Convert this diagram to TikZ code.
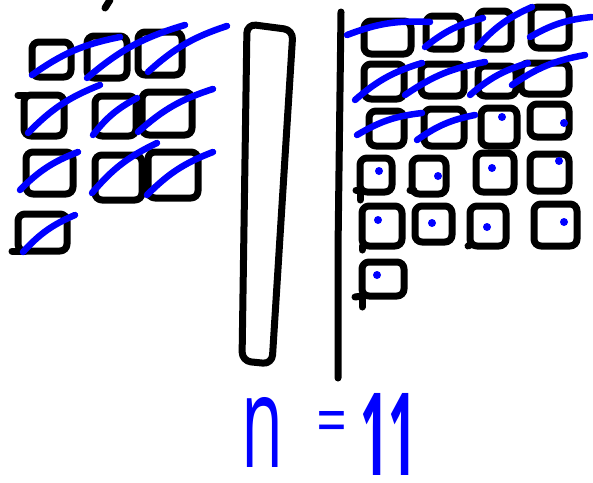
\documentclass[tikz,border=0pt]{standalone}
\usepackage{fontspec}
\setmainfont{Liberation Sans}
\newfontfamily\handfont{Open Sans}
\usepackage{graphicx}
\tikzset{
  ink/.style={line width=7pt, black, line cap=round, line join=round, rounded corners=7pt},
  pen/.style={line width=6.5pt, blue, line cap=round},
  dot/.style={blue, fill=blue},
  hand/.style={blue, inner sep=0pt, font=\handfont}
}
\newcommand{\sq}[4]{\draw[ink] (#1,#2) -- (#3,#2) -- (#3,#4) -- (#1,#4) -- cycle;}
\newcommand{\tick}[4]{\draw[pen] (#1,#2) to[bend left=12] (#3,#4);}
\newcommand{\bdot}[2]{\fill[dot] (#1,#2) circle (4pt);}
\begin{document}
\begin{tikzpicture}[x=1pt,y=-1pt]
\useasboundingbox (0,0) rectangle (593,482);
\fill[white] (0,0) rectangle (593,482);
% top tick
\draw[ink] (110,0) -- (105,8);
% left group
\sq{32}{42}{71}{77}
\sq{87}{36}{127}{78}
\sq{138}{32}{182}{75}
\sq{24}{95}{64}{136}
\sq{95}{96}{136}{136}
\sq{142}{92}{192}{135}
\sq{26}{152}{73}{194}
\sq{95}{155}{142}{200}
\sq{148}{152}{198}{198}
\sq{18}{214}{67}{251}
\draw[ink] (12,251) -- (25,251);
\draw[ink] (18,95) -- (26,95);
\tick{32}{75}{120}{37}
\tick{87}{78}{185}{25}
\tick{148}{72}{227}{26}
\tick{28}{133}{100}{85}
\tick{93}{135}{137}{98}
\tick{138}{132}{213}{89}
\tick{20}{190}{78}{152}
\tick{92}{193}{157}{143}
\tick{147}{195}{213}{152}
\tick{23}{252}{75}{215}
% middle bar
\draw[ink, rounded corners=9pt] (247,24) -- (293,30) -- (272,364) -- (242,361) -- cycle;
% vertical line
\draw[ink] (341,12) -- (338,250) -- (338,378);
% right group
\sq{364}{21}{411}{54}
\sq{426}{16}{461}{49}
\sq{478}{11}{511}{49}
\sq{531}{7}{569}{48}
\sq{364}{64}{404}{99}
\sq{421}{64}{464}{96}
\sq{478}{66}{516}{96}
\sq{521}{63}{569}{94}
\sq{369}{111}{404}{146}
\sq{424}{109}{464}{146}
\sq{481}{108}{517}{146}
\sq{530}{104}{569}{137}
\sq{360}{158}{392}{192}
\sq{412}{158}{446}{194}
\sq{476}{153}{514}{192}
\sq{530}{154}{569}{191}
\sq{362}{206}{402}{246}
\sq{415}{206}{452}{242}
\sq{470}{206}{506}{246}
\sq{534}{204}{577}{246}
\sq{362}{262}{404}{296}
\draw[ink] (362,296) -- (362,307);
\draw[ink] (355,297) -- (362,296);
\draw[ink] (356,190) -- (362,190);
\draw[ink] (360,193) -- (360,200);
\draw[ink] (410,190) -- (414,190);
\draw[ink] (362,246) -- (362,250);
\draw[ink] (468,246) -- (472,244);
\tick{347}{35}{430}{22}
\tick{425}{47}{483}{18}
\tick{477}{47}{532}{7}
\tick{530}{37}{592}{17}
\tick{355}{100}{422}{63}
\tick{405}{95}{485}{62}
\tick{470}{95}{528}{63}
\tick{512}{85}{585}{55}
\tick{357}{135}{422}{113}
\tick{417}{140}{475}{115}
\bdot{502}{117}
\bdot{564}{123}
\bdot{379}{171}
\bdot{438}{176}
\bdot{492}{168}
\bdot{559}{161}
\bdot{378}{220}
\bdot{432}{223}
\bdot{487}{227}
\bdot{564}{222}
\bdot{377}{275}
% n = 11
\node[hand] (n) at (262,432) {\resizebox{42pt}{70pt}{n}};
\node[hand] (eq) at (332,428) {\resizebox{31pt}{33pt}{=}};
\node[hand, font=\handfont\bfseries] (eleven) at (388,434) {\resizebox{56pt}{82pt}{11}};
\end{tikzpicture}
\end{document}
